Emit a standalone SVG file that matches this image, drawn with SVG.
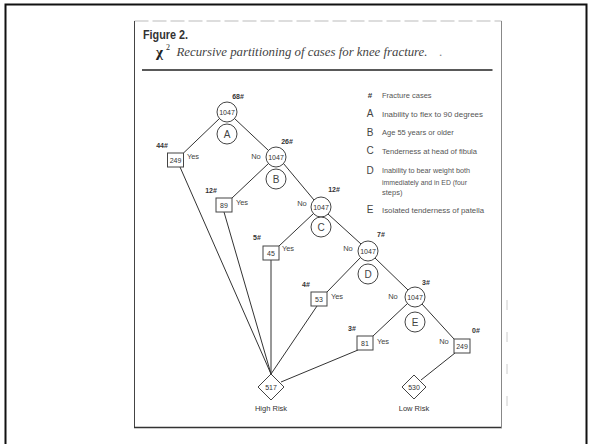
<svg xmlns="http://www.w3.org/2000/svg" width="592" height="444" viewBox="0 0 592 444">
<style>
.s{font-family:"Liberation Sans",Arial,sans-serif;fill:#333}
.m{text-anchor:middle}
.cnt{font-size:7px;font-weight:bold;fill:#333}
.yn{font-size:7.5px;fill:#444}
.num{font-size:7px;fill:#333}
.let{font-size:10px;fill:#444}
.leg{font-size:7.5px;fill:#555}
.node{fill:#fff;stroke:#444;stroke-width:1}
.conn line{stroke:#333;stroke-width:1;fill:none}
</style>
<rect width="592" height="444" fill="#fff"/>
<g id="frame" fill="none">
<rect x="5.5" y="4.5" width="581" height="452" stroke="#111" stroke-width="2"/>
<line x1="134.5" y1="21" x2="501.5" y2="21" stroke="#bbb" stroke-width="1" stroke-dasharray="14 4"/>
<line x1="134.5" y1="21" x2="134.5" y2="428" stroke="#444" stroke-width="1"/>
<line x1="134" y1="427.5" x2="502" y2="427.5" stroke="#333" stroke-width="1.3"/>
<line x1="501.5" y1="21" x2="501.5" y2="428" stroke="#888" stroke-width="1"/>
<line x1="507" y1="300" x2="507" y2="420" stroke="#ccc" stroke-width="1" stroke-dasharray="10 22"/>
</g>
<g id="title">
<text x="143" y="39" class="s" font-size="12" font-weight="bold" fill="#222" textLength="45" lengthAdjust="spacingAndGlyphs">Figure 2.</text>
<text x="156" y="57" font-family="'Liberation Serif',serif" font-size="15" font-weight="bold" fill="#222">χ</text>
<text x="166" y="50" font-family="'Liberation Serif',serif" font-size="8" fill="#222">2</text>
<text x="176.5" y="56" font-family="'Liberation Serif',serif" font-style="italic" font-size="13" fill="#444" textLength="251" lengthAdjust="spacingAndGlyphs">Recursive partitioning of cases for knee fracture.</text>
<text x="439" y="56" font-family="'Liberation Serif',serif" font-size="13" fill="#888">.</text>
<line x1="142" y1="70" x2="492.5" y2="70" stroke="#222" stroke-width="1.3"/>
</g>
<g id="legend">
<text x="370" y="98" class="s m" font-size="8" font-weight="bold">#</text>
<text x="382" y="98" class="s leg">Fracture cases</text>
<text x="370" y="117" class="s m let">A</text>
<text x="382" y="116.5" class="s leg" textLength="101" lengthAdjust="spacingAndGlyphs">Inability to flex to 90 degrees</text>
<text x="370" y="135.5" class="s m let">B</text>
<text x="382" y="135" class="s leg">Age 55 years or older</text>
<text x="370" y="154" class="s m let">C</text>
<text x="382" y="153.5" class="s leg" textLength="95" lengthAdjust="spacingAndGlyphs">Tenderness at head of fibula</text>
<text x="370" y="174" class="s m let">D</text>
<text x="382" y="173" class="s leg" textLength="88" lengthAdjust="spacingAndGlyphs">Inability to bear weight both</text>
<text x="382" y="184.5" class="s leg" textLength="85" lengthAdjust="spacingAndGlyphs">immediately and in ED (four</text>
<text x="382" y="195" class="s leg">steps)</text>
<text x="370" y="213" class="s m let">E</text>
<text x="382" y="212.5" class="s leg" textLength="102" lengthAdjust="spacingAndGlyphs">Isolated tenderness of patella</text>
</g>
<g id="connectors" class="conn">
<line x1="219.5" y1="118.5" x2="183.5" y2="153"/>
<line x1="234.5" y1="118.5" x2="268.5" y2="150.5"/>
<line x1="268.5" y1="163.5" x2="232" y2="198"/>
<line x1="283.5" y1="163.5" x2="314" y2="200"/>
<line x1="313.5" y1="213.5" x2="279" y2="246"/>
<line x1="328" y1="214" x2="361" y2="244"/>
<line x1="360.5" y1="257.5" x2="327" y2="292"/>
<line x1="375" y1="258" x2="408" y2="290"/>
<line x1="407.5" y1="303.5" x2="373" y2="336"/>
<line x1="422" y1="304" x2="454" y2="339"/>
<line x1="455" y1="353" x2="421" y2="380"/>
<line x1="180" y1="167" x2="271" y2="374"/>
<line x1="224" y1="212" x2="271" y2="374"/>
<line x1="271" y1="260" x2="271" y2="374"/>
<line x1="317" y1="306" x2="271" y2="374"/>
<line x1="358" y1="350" x2="281" y2="382"/>
</g>
<g id="node-root">
<circle cx="227" cy="112" r="10" class="node"/>
<text x="227" y="114.5" class="s m num">1047</text>
<text x="238" y="98.5" class="s m cnt">68#</text>
<circle cx="227" cy="134" r="10" class="node"/>
<text x="227" y="137.6" class="s m let">A</text>
</g>
<g id="node-b">
<circle cx="276" cy="157" r="10" class="node"/>
<text x="276" y="159.5" class="s m num">1047</text>
<text x="287" y="143.5" class="s m cnt">26#</text>
<text x="256" y="158.5" class="s m yn">No</text>
<circle cx="276" cy="179" r="10" class="node"/>
<text x="276" y="182.6" class="s m let">B</text>
</g>
<g id="node-c">
<circle cx="321" cy="207" r="10" class="node"/>
<text x="321" y="209.5" class="s m num">1047</text>
<text x="334" y="191.5" class="s m cnt">12#</text>
<text x="302" y="205.5" class="s m yn">No</text>
<circle cx="321" cy="227" r="10" class="node"/>
<text x="321" y="230.6" class="s m let">C</text>
</g>
<g id="node-d">
<circle cx="368" cy="251" r="10" class="node"/>
<text x="368" y="253.5" class="s m num">1047</text>
<text x="381" y="236.5" class="s m cnt">7#</text>
<text x="348" y="250.5" class="s m yn">No</text>
<circle cx="368" cy="274" r="10" class="node"/>
<text x="368" y="277.6" class="s m let">D</text>
</g>
<g id="node-e">
<circle cx="415" cy="297" r="10" class="node"/>
<text x="415" y="299.5" class="s m num">1047</text>
<text x="426" y="284.5" class="s m cnt">3#</text>
<text x="393" y="298.5" class="s m yn">No</text>
<circle cx="415" cy="322" r="10" class="node"/>
<text x="415" y="325.6" class="s m let">E</text>
</g>
<g id="box-249-left">
<rect x="167.5" y="153" width="16" height="14" class="node"/>
<text x="175.5" y="162.5" class="s m num">249</text>
<text x="162" y="147.5" class="s m cnt">44#</text>
<text x="193" y="158.5" class="s m yn">Yes</text>
</g>
<g id="box-89">
<rect x="216" y="198" width="16" height="14" class="node"/>
<text x="224" y="207.5" class="s m num">89</text>
<text x="211" y="192.5" class="s m cnt">12#</text>
<text x="242" y="204.5" class="s m yn">Yes</text>
</g>
<g id="box-45">
<rect x="263" y="246" width="16" height="14" class="node"/>
<text x="271" y="255.5" class="s m num">45</text>
<text x="257" y="239.5" class="s m cnt">5#</text>
<text x="288" y="250.5" class="s m yn">Yes</text>
</g>
<g id="box-53">
<rect x="311" y="292" width="16" height="14" class="node"/>
<text x="319" y="301.5" class="s m num">53</text>
<text x="306" y="286.5" class="s m cnt">4#</text>
<text x="337" y="298.5" class="s m yn">Yes</text>
</g>
<g id="box-81">
<rect x="357" y="336" width="16" height="14" class="node"/>
<text x="365" y="345.5" class="s m num">81</text>
<text x="352" y="330.5" class="s m cnt">3#</text>
<text x="383" y="343.5" class="s m yn">Yes</text>
</g>
<g id="box-249-right">
<rect x="454" y="339" width="16" height="14" class="node"/>
<text x="462" y="348.5" class="s m num">249</text>
<text x="476" y="332.5" class="s m cnt">0#</text>
<text x="444" y="343.5" class="s m yn">No</text>
</g>
<g id="high-risk">
<polygon points="271,374 284,387 271,400 258,387" class="node"/>
<text x="271" y="389.5" class="s m num">517</text>
<text x="271" y="411" class="s m" font-size="7.5" fill="#333">High Risk</text>
</g>
<g id="low-risk">
<polygon points="414,375 426,387 414,399 402,387" class="node"/>
<text x="414" y="389.5" class="s m num">530</text>
<text x="414" y="411" class="s m" font-size="7.5" fill="#333">Low Risk</text>
</g>
</svg>
